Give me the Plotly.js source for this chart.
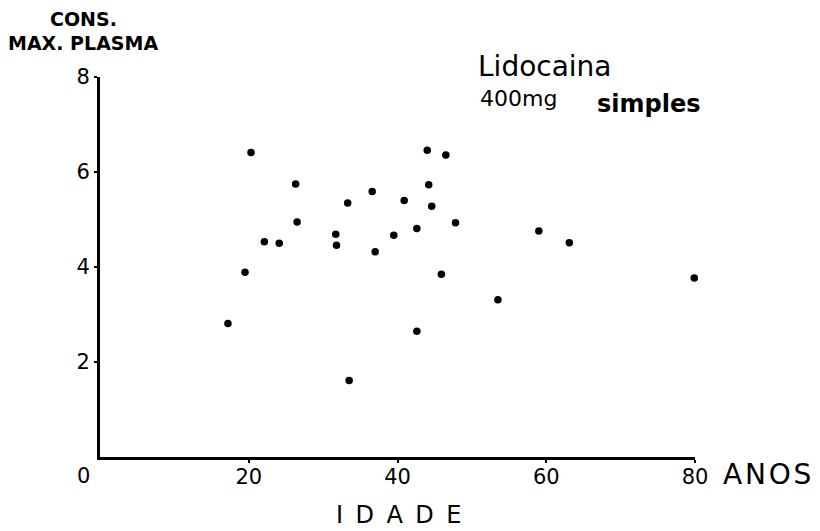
<!DOCTYPE html>
<html><head><meta charset="utf-8">
<script src="https://cdn.plot.ly/plotly-3.0.1.min.js"></script>
<style>html,body{margin:0;padding:0;background:#fff}#chart{width:820px;height:531px}</style>
</head><body><div id="chart"></div>
<script>
const idade = [20.3, 26.3, 26.5, 22.1, 24.1, 19.5, 17.2,
  44.0, 46.5, 44.2, 36.6, 33.3, 40.9, 44.6, 47.8, 59.0, 42.6, 39.5, 31.7, 31.8, 37.0, 45.9, 53.5, 42.6, 33.5,
  63.1, 79.9];
const consMax = [6.41, 5.75, 4.95, 4.53, 4.50, 3.89, 2.81,
  6.46, 6.36, 5.73, 5.59, 5.35, 5.40, 5.28, 4.93, 4.76, 4.81, 4.67, 4.69, 4.46, 4.32, 3.85, 3.31, 2.65, 1.61,
  4.51, 3.77];
const xTicks = [20, 40, 60, 80];
const xTickText = ['20', '40', '60', '80'];
const yTicks = [2, 4, 6, 8];
const yTickText = ['2', '4', '6', '8'];

const tickFont = {family: 'DejaVu Sans', size: 21, color: '#000'};
const trace = {
  x: idade, y: consMax, type: 'scatter', mode: 'markers', cliponaxis: false,
  marker: {color: '#000', size: 7.5}, hoverinfo: 'x+y'
};
// helpers: pixel -> paper (plot area: x 100..695, y 77..457)
const px = p => (p - 100) / 595;
const py = p => (457 - p) / 380;
const layout = {
  width: 820, height: 531,
  margin: {l: 100, r: 125, t: 77, b: 74},
  paper_bgcolor: '#fff', plot_bgcolor: '#fff',
  showlegend: false,
  xaxis: {range: [0, 80], tickvals: xTicks, ticktext: xTickText, showgrid: false, zeroline: false,
    showline: true, linecolor: '#000', linewidth: 3, ticks: 'outside', ticklen: 3, tickwidth: 2, tickcolor: '#000',
    tickfont: tickFont, ticklabelstandoff: -4},
  yaxis: {range: [0, 8], tickvals: yTicks, ticktext: yTickText, showgrid: false, zeroline: false,
    showline: true, linecolor: '#000', linewidth: 3, ticks: 'outside', ticklen: 3, tickwidth: 2, tickcolor: '#000',
    tickfont: tickFont},
  annotations: [
    {text: '0', xref: 'paper', yref: 'paper', x: px(83), y: py(476), xanchor: 'center', yanchor: 'middle', showarrow: false, font: tickFont},
    {text: 'A\u200AN\u200AO\u200AS', xref: 'paper', yref: 'paper', x: px(721), y: py(474), xanchor: 'left', yanchor: 'middle', showarrow: false,
      font: {family: 'DejaVu Sans', size: 28, color: '#000'}},
    {text: 'I \u2009D \u2009A \u2009D \u2009E', xref: 'paper', yref: 'paper', x: px(398), y: py(515), xanchor: 'center', yanchor: 'middle', showarrow: false,
      font: {family: 'DejaVu Sans', size: 24, color: '#000'}},
    {text: '<b>CONS.</b>', xref: 'paper', yref: 'paper', x: px(48), y: py(19), xanchor: 'left', yanchor: 'middle', showarrow: false,
      font: {family: 'DejaVu Sans', size: 19, color: '#000'}},
    {text: '<b>MAX. PLASMA</b>', xref: 'paper', yref: 'paper', x: px(6), y: py(43), xanchor: 'left', yanchor: 'middle', showarrow: false,
      font: {family: 'DejaVu Sans', size: 19, color: '#000'}},
    {text: 'Lidocaina', xref: 'paper', yref: 'paper', x: px(476), y: py(67), xanchor: 'left', yanchor: 'middle', showarrow: false,
      font: {family: 'DejaVu Sans', size: 28, color: '#000'}},
    {text: '400mg', xref: 'paper', yref: 'paper', x: px(478), y: py(99), xanchor: 'left', yanchor: 'middle', showarrow: false,
      font: {family: 'DejaVu Sans', size: 22, color: '#000'}},
    {text: '<b>simples</b>', xref: 'paper', yref: 'paper', x: px(595), y: py(104), xanchor: 'left', yanchor: 'middle', showarrow: false,
      font: {family: 'DejaVu Sans', size: 24, color: '#000'}}
  ]
};
Plotly.newPlot('chart', [trace], layout, {displayModeBar: false, staticPlot: true});
</script></body></html>
